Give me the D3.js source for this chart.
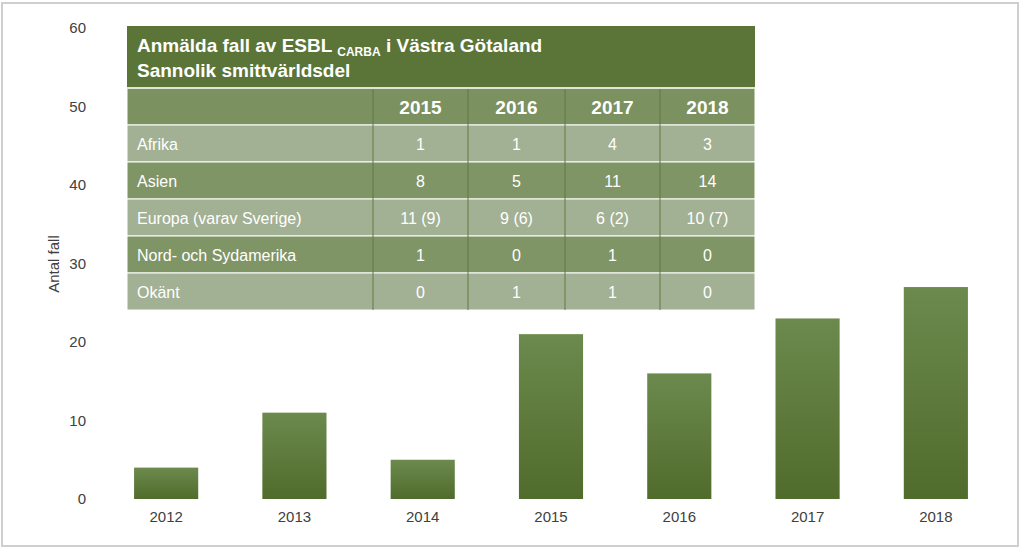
<!DOCTYPE html><html><head><meta charset="utf-8"><script src="https://cdn.jsdelivr.net/npm/d3@7"></script>
<style>body{margin:0;background:#fff}svg{font-family:Arial,"Liberation Sans",sans-serif}</style></head><body><svg width="1023" height="551"></svg><script>
const years=["2012","2013","2014","2015","2016","2017","2018"];
const cases=[4,11,5,21,16,23,27];
const yTicks=[0,10,20,30,40,50,60];
const tableYears=["2015","2016","2017","2018"];
const tableRows=["Afrika","Asien","Europa (varav Sverige)","Nord- och Sydamerika","Okänt"];
const tableVals=[["1","1","4","3"],["8","5","11","14"],["11 (9)","9 (6)","6 (2)","10 (7)"],["1","0","1","0"],["0","1","1","0"]];
const svg=d3.select("svg");
svg.append("rect").attr("x",2).attr("y",3).attr("width",1016).attr("height",543).attr("fill","#fff").attr("stroke","#cfcfcf").attr("stroke-width",2);
const x=d3.scaleBand().domain(years).range([102,1000]).paddingInner(0.5).paddingOuter(0.25);
const y=d3.scaleLinear().domain([0,60]).range([499,28]);
const g=d3.select("svg").append("g");
const grad=svg.append("defs").append("linearGradient").attr("id","gb").attr("x1",0).attr("x2",0).attr("y1",0).attr("y2",1);
grad.append("stop").attr("offset",0).attr("stop-color","#6d8a4e");grad.append("stop").attr("offset",1).attr("stop-color","#4f6c2c");
g.selectAll("rect.b").data(cases).join("rect").attr("x",(d,i)=>x(years[i])).attr("width",x.bandwidth()).attr("y",d=>y(d)).attr("height",d=>y(0)-y(d)).attr("fill","url(#gb)");
const ya=g.append("g").attr("transform","translate(96,0)").call(d3.axisLeft(y).tickValues(yTicks).tickSize(0).tickPadding(10));
ya.select(".domain").remove();ya.selectAll("text").attr("font-size",15).attr("fill","#404040");
const xa=g.append("g").attr("transform","translate(0,499)").call(d3.axisBottom(x).tickSize(0).tickPadding(12));
xa.select(".domain").remove();xa.selectAll("text").attr("font-size",15).attr("fill","#404040");
svg.append("text").attr("transform","translate(59,264) rotate(-90)").attr("text-anchor","middle").attr("font-size",15).attr("fill","#404040").text("Antal fall");
// table
const tx=127,tw=628,colX=[127,373,468,565,660,755];
const t=svg.append("g");
t.append("rect").attr("x",tx).attr("y",26).attr("width",tw).attr("height",62).attr("fill","#5a7537");
const tt=t.append("text").attr("x",137).attr("y",52).attr("font-size",19).attr("font-weight","bold").attr("fill","#fff");
tt.append("tspan").text("Anmälda fall av ESBL ");tt.append("tspan").attr("font-size",12).attr("dy",4).text("CARBA");tt.append("tspan").attr("dy",-4).text(" i Västra Götaland");
t.append("text").attr("x",137).attr("y",77).attr("font-size",19).attr("font-weight","bold").attr("fill","#fff").text("Sannolik smittvärldsdel");
const rowY=d3.scaleBand().domain(d3.range(6)).range([88,310]);
const fills=["#7b915f","#a2b093","#7f9566","#a2b093","#7f9566","#a2b093"];
d3.range(6).forEach(r=>{
 t.append("rect").attr("x",tx).attr("y",rowY(r)).attr("width",tw).attr("height",rowY.bandwidth()).attr("fill",fills[r]).attr("stroke","#fff").attr("stroke-width",1);
 const cy=rowY(r)+rowY.bandwidth()/2+6;
 if(r>0)t.append("text").attr("x",137).attr("y",cy).attr("font-size",16).attr("fill","#fff").text(tableRows[r-1]);
 for(let c=0;c<4;c++){
  t.append("text").attr("x",(colX[c+1]+colX[c+2])/2).attr("y",r==0?cy+1:cy).attr("text-anchor","middle").attr("fill","#fff")
   .attr("font-size",r==0?19:16).attr("font-weight",r==0?"bold":"normal").text(r==0?tableYears[c]:tableVals[r-1][c]);
 }
});
colX.slice(1,5).forEach(cx=>t.append("line").attr("x1",cx).attr("x2",cx).attr("y1",88).attr("y2",310).attr("stroke","#5f7a40").attr("stroke-width",1));
t.append("line").attr("x1",tx).attr("x2",tx+tw).attr("y1",88).attr("y2",88).attr("stroke","#dfe6d5").attr("stroke-width",2);
</script></body></html>
